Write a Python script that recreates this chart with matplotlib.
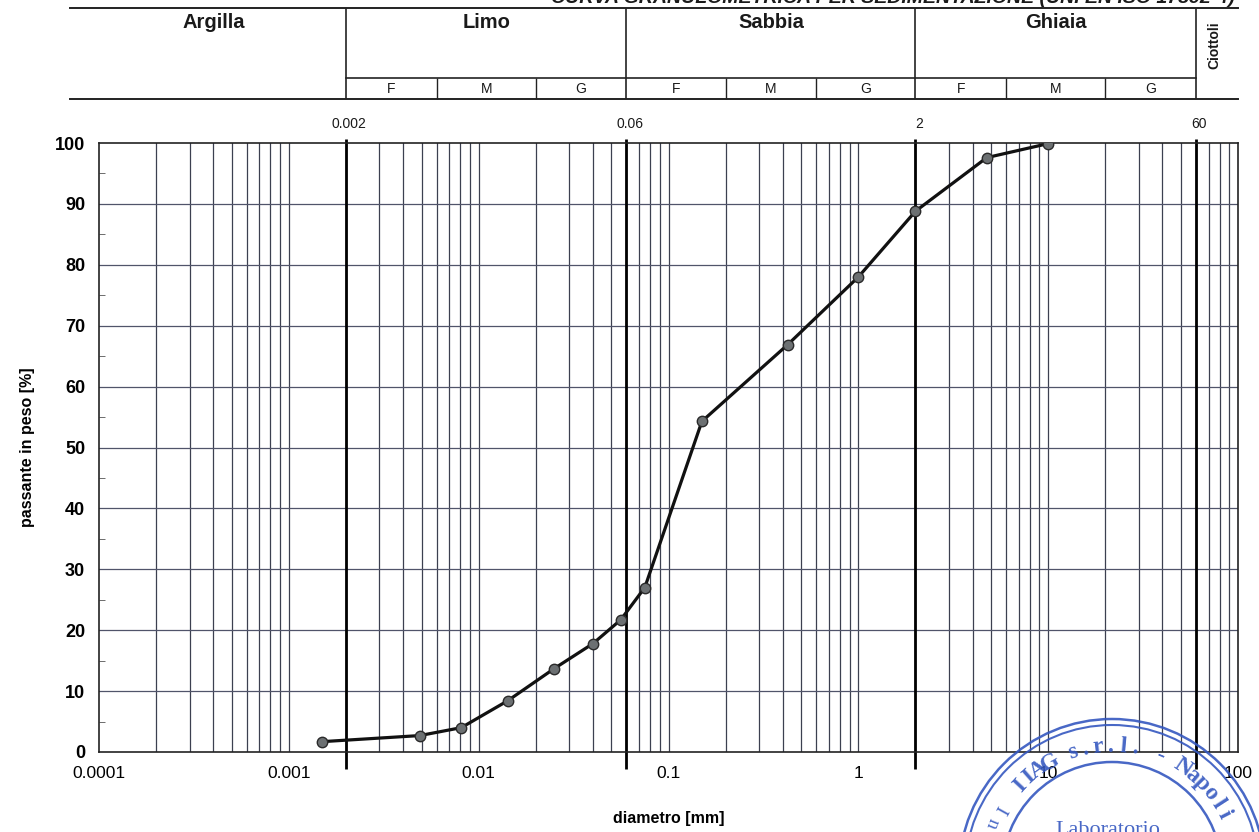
import matplotlib
matplotlib.use('Agg')
import matplotlib.pyplot as plt
import numpy as np
from matplotlib.patches import Circle

plt.rcParams['font.family'] = ['Liberation Sans', 'DejaVu Sans']

# dati curva granulometrica
diametro = [0.0015, 0.0049, 0.0081, 0.0142, 0.025, 0.040, 0.056, 0.075,
            0.15, 0.425, 1.0, 2.0, 4.75, 10.0]
passante = [1.7, 2.7, 4.0, 8.4, 13.7, 17.8, 21.7, 27.0,
            54.3, 66.9, 78.0, 88.8, 97.6, 99.9]

# classi granulometriche
classi = ['Argilla', 'Limo', 'Sabbia', 'Ghiaia']
limiti = [0.002, 0.06, 2, 60]
limiti_lab = ['0.002', '0.06', '2', '60']
sotto_limiti = [0.006, 0.02, 0.2, 0.6, 6, 20]
sotto_classi = ['F', 'M', 'G']
xtick_val = [0.0001, 0.001, 0.01, 0.1, 1, 10, 100]
xtick_lab = ['0.0001', '0.001', '0.01', '0.1', '1', '10', '100']

W, H = 1259, 832
fig = plt.figure(figsize=(W/100, H/100), dpi=100)
fig.patch.set_facecolor('white')

x0, x1, ytop, ybot = 99, 1238, 143, 752
ax = fig.add_axes([x0/W, (H-ybot)/H, (x1-x0)/W, (ybot-ytop)/H])
ax.set_xscale('log')
ax.set_xlim(0.0001, 100)
ax.set_ylim(0, 100)

# griglia
for n in range(-4, 2):
    for k in range(1, 10):
        v = k*10.0**n
        if v > 0.0001:
            ax.axvline(v, color='#3c4050', lw=0.9, zorder=1)
for yv in range(10, 100, 10):
    ax.axhline(yv, color='#50546a', lw=0.9, zorder=1)
ax.vlines(limiti, -2.8, 100.6, color='black', lw=2.0, clip_on=False, zorder=2)

ax.plot(diametro, passante, color='#111111', lw=2.3, marker='o', markersize=7.5,
        markerfacecolor='#6c7072', markeredgecolor='#2a2a2a', markeredgewidth=1.0, zorder=5)

ax.set_xticks(xtick_val)
ax.set_xticklabels(xtick_lab, fontsize=12.5)
ax.minorticks_off()
ax.tick_params(axis='x', length=0, pad=10)
ax.set_yticks(range(0, 101, 10))
ax.set_yticklabels([str(v) for v in range(0, 101, 10)], fontsize=13, fontweight='bold')
ax.set_yticks(range(5, 100, 10), minor=True)
ax.tick_params(axis='y', which='major', length=0, pad=10)
ax.tick_params(axis='y', which='minor', direction='in', length=4, color='#555555')
for s in ax.spines.values():
    s.set_linewidth(1.2)
    s.set_color('#222222')
ax.set_xlabel('diametro [mm]', fontsize=11.5, fontweight='bold', labelpad=22)
ax.set_ylabel('passante in peso [%]', fontsize=11.5, fontweight='bold', labelpad=14)

# intestazione classi
hax = fig.add_axes([x0/W, (H-110)/H, (x1-x0)/W, 110/H])
hax.set_xscale('log')
hax.set_xlim(0.0001, 100)
hax.set_ylim(110, 0)
hax.axis('off')
xl = 0.0001*10**(-29/189.8)
hax.plot([xl, 100], [8, 8], color='#222222', lw=1.4, clip_on=False)
hax.plot([xl, 100], [99, 99], color='#222222', lw=1.4, clip_on=False)
hax.plot([limiti[0], limiti[-1]], [78, 78], color='#222222', lw=1.2, clip_on=False)
hax.vlines(limiti, 8, 99, color='#222222', lw=1.2)
hax.vlines(sotto_limiti, 78, 99, color='#222222', lw=1.0)
cx = [0.0004, np.sqrt(0.002*0.06), np.sqrt(0.06*2), np.sqrt(2*60)]
for c, t in zip(cx, classi):
    hax.text(c, 23, t, ha='center', va='center', fontsize=14.5, fontweight='bold', color='#1a1a1a')
hax.text(75, 45, 'Ciottoli', rotation=90, ha='center', va='center',
         fontsize=10, fontweight='bold', color='#1a1a1a')
bordi = [0.002, 0.006, 0.02, 0.06, 0.2, 0.6, 2, 6, 20, 60]
for i in range(9):
    hax.text(np.sqrt(bordi[i]*bordi[i+1]), 96, sotto_classi[i % 3], ha='center',
             va='bottom', fontsize=10, color='#1a1a1a')
for v, t in zip(limiti, limiti_lab):
    hax.text(v*1.04, 124, t, ha='center', va='center', fontsize=10, color='#1a1a1a', clip_on=False)
hax.text(100*10**(-3/189.8), 3, 'CURVA GRANULOMETRICA PER SEDIMENTAZIONE (UNI EN ISO 17892-4)',
         ha='right', va='baseline', fontsize=14, fontweight='bold', style='italic',
         color='#1a1a1a', clip_on=False)

# timbro
sax = fig.add_axes([0, 0, 1, 1], zorder=10)
sax.set_xlim(0, W)
sax.set_ylim(0, H)
sax.axis('off')
blu = '#3558c0'
scx, scy = 1112, H-872
for r, lw in [(153, 1.8), (147, 1.5), (110, 1.8)]:
    sax.add_patch(Circle((scx, scy), r, fill=False, ec=blu, lw=lw, alpha=0.9))
testo = 'IIAG s.r.l. - Napoli'
angs = np.linspace(137, 27, len(testo))
for ch, a in zip(testo, angs):
    r = 126
    sax.text(scx + r*np.cos(np.radians(a)), scy + r*np.sin(np.radians(a)), ch,
             rotation=a-90, ha='center', va='center', fontsize=17, fontweight='bold',
             family='Liberation Serif', color=blu, alpha=0.9)
testo2 = 'Indagini'
angs2 = 151 + 7*np.arange(len(testo2))
for ch, a in zip(testo2, angs2):
    r = 129
    sax.text(scx + r*np.cos(np.radians(a)), scy + r*np.sin(np.radians(a)), ch,
             rotation=a+90, ha='center', va='center', fontsize=14,
             family='Liberation Serif', color=blu, alpha=0.9)
sax.text(1108, H-821, 'Laboratorio', ha='center', va='top', fontsize=16,
         family='Liberation Serif', color=blu, alpha=0.9)

fig.savefig('out.png', dpi=100)
